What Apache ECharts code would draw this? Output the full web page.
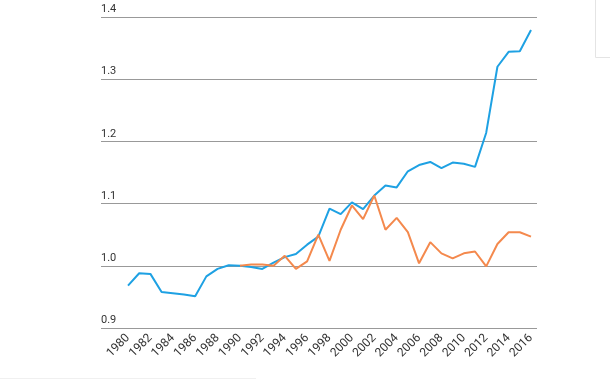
<!DOCTYPE html>
<html>
<head>
<meta charset="utf-8">
<script src="https://cdn.jsdelivr.net/npm/echarts@6/dist/echarts.min.js"></script>
<style>html,body{margin:0;padding:0;background:#fff}#c{width:610px;height:380px}</style>
</head>
<body>
<div id="c"></div>
<script>
var years = [];
for (var y = 1980; y <= 2016; y++) years.push(String(y));
var blueValues = [0.968,0.988,0.987,0.958,0.956,0.954,0.951,0.983,0.995,1.001,1.000,0.998,0.995,1.005,1.014,1.019,1.034,1.047,1.092,1.083,1.102,1.091,1.113,1.129,1.126,1.152,1.162,1.167,1.157,1.166,1.164,1.159,1.214,1.320,1.344,1.345,1.379];
var orangeValues = [null,null,null,null,null,null,null,null,null,null,1.000,1.002,1.002,1.000,1.016,0.995,1.007,1.050,1.008,1.058,1.097,1.075,1.113,1.058,1.077,1.054,1.004,1.038,1.020,1.012,1.020,1.023,0.999,1.035,1.054,1.054,1.047];
var yTicks = {min: 0.9, max: 1.4, interval: 0.1};

var chart = echarts.init(document.getElementById('c'), null, {renderer: 'canvas'});
chart.setOption({
  animation: false,
  textStyle: {fontFamily: 'Roboto, "Noto Sans", sans-serif'},
  grid: [
    {left: 101, right: 73, top: 17, bottom: 52},
    {left: 128, right: 79, top: 17, bottom: 52}
  ],
  xAxis: [
    {gridIndex: 0, type: 'category', data: years, show: false, boundaryGap: false},
    {gridIndex: 1, type: 'category', data: years, boundaryGap: false,
     axisLine: {show: false}, axisTick: {show: false},
     axisLabel: {rotate: 45, interval: 1, color: '#333', fontSize: 12, margin: 8}}
  ],
  yAxis: [
    {gridIndex: 0, type: 'value', min: yTicks.min, max: yTicks.max, interval: yTicks.interval,
     axisLine: {show: false}, axisTick: {show: false},
     splitLine: {lineStyle: {color: '#999', width: 1}},
     axisLabel: {inside: true, verticalAlign: 'bottom', margin: 0, padding: [0, 0, 2, 0],
       color: '#333', fontSize: 11, formatter: function (v) { return v.toFixed(1); }}},
    {gridIndex: 1, type: 'value', min: yTicks.min, max: yTicks.max, interval: yTicks.interval, show: false, splitLine: {show: false}}
  ],
  series: [
    {type: 'line', xAxisIndex: 1, yAxisIndex: 1, data: blueValues, showSymbol: false,
     lineStyle: {color: '#1ea1e3', width: 2}, itemStyle: {color: '#1ea1e3'}},
    {type: 'line', xAxisIndex: 1, yAxisIndex: 1, data: orangeValues, showSymbol: false,
     lineStyle: {color: '#f4894d', width: 2}, itemStyle: {color: '#f4894d'}}
  ],
  graphic: [
    {type: 'polyline', shape: {points: [[595.5, 0], [595.5, 57.5], [610, 57.5]]}, style: {stroke: '#e4e4e4', fill: null, lineWidth: 1}, silent: true},
    {type: 'line', shape: {x1: 0, y1: 378.5, x2: 256, y2: 378.5}, style: {stroke: '#f0f0f0', lineWidth: 1}, silent: true}
  ]
});
</script>
</body>
</html>
